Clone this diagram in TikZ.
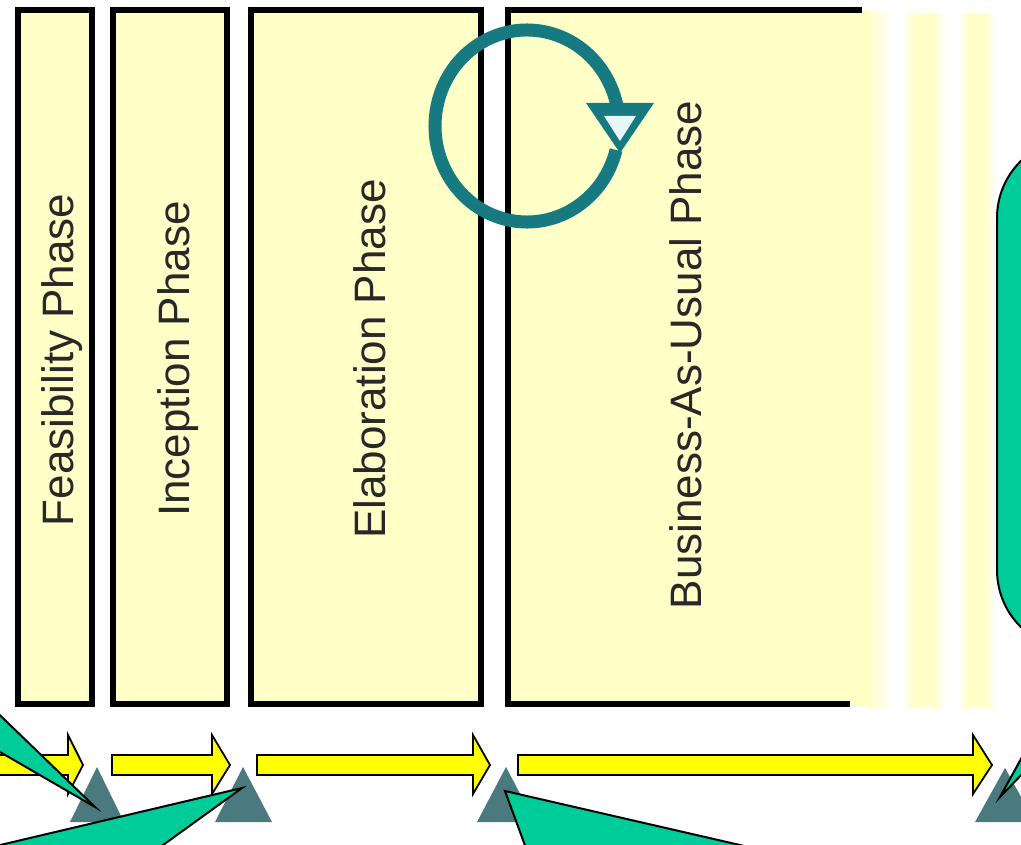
\documentclass[tikz,border=0pt]{standalone}
\usepackage{fontspec}
\setmainfont{Liberation Sans}
\definecolor{boxyellow}{RGB}{255,255,200}
\definecolor{arrowyellow}{RGB}{255,255,0}
\definecolor{slate}{RGB}{74,122,126}
\definecolor{ringteal}{RGB}{22,122,128}
\definecolor{ringlight}{RGB}{230,246,250}
\definecolor{calloutgreen}{RGB}{0,204,153}
\definecolor{textgray}{RGB}{40,40,40}
\begin{document}
\begin{tikzpicture}[x=1pt,y=-1pt,
  phasebox/.style={draw=black, line width=6pt, fill=boxyellow, line join=miter},
  phasetext/.style={rotate=90, anchor=base, inner sep=0pt, font=\fontsize{44}{50}\selectfont, text=textgray},
  blockarrow/.style={draw=black, line width=1.8pt, fill=arrowyellow, line join=miter},
  milestone/.style={fill=slate, draw=none},
  callout/.style={draw=black, line width=2pt, fill=calloutgreen, line join=miter},
  ring/.style={draw=ringteal, line width=13pt, line cap=butt},
]
\useasboundingbox (0,0) rectangle (1021,845);
\fill[white] (0,0) rectangle (1021,845);
\begin{scope}
\clip (0,0) rectangle (1021,845);
% fading tail of the open phase and stripes
\fill[boxyellow] (508,10) rectangle (868,706);
\shade[left color=boxyellow, right color=white] (867,12) rectangle (893,708);
\shade[left color=white, right color=boxyellow] (902,14) rectangle (914,708);
\fill[boxyellow] (913,14) rectangle (934,708);
\shade[left color=boxyellow, right color=white] (933,14) rectangle (946,708);
\shade[left color=white, right color=boxyellow] (958,14) rectangle (968,708);
\fill[boxyellow] (967,14) rectangle (986,708);
\shade[left color=boxyellow, right color=white] (985,14) rectangle (996,708);
% phase boxes
\draw[phasebox] (18,10) rectangle (92,704);
\draw[phasebox] (113,10) rectangle (227,704);
\draw[phasebox] (251,10) rectangle (481,704);
\draw[draw=black, line width=6pt, line join=miter] (862,10) -- (508,10) -- (508,704) -- (850,704);
% phase labels
\node[phasetext] (feas) at (73,360) {Feasibility Phase};
\node[phasetext] (incep) at (189,359) {Inception Phase};
\node[phasetext] (elab) at (385,359) {Elaboration Phase};
\node[phasetext] (bau) at (701,355) {Business-As-Usual Phase};
% circular arrow
\draw[ring] ([shift={(14.5:92 and 96)}]527,126) arc[start angle=14.5, end angle=347.3, x radius=92, y radius=96];
\fill[ringteal] (586,103) -- (654,103) -- (620,153) -- cycle;
\fill[ringlight] (604,116) -- (636,116) -- (620,141) -- cycle;
% block arrows
\draw[blockarrow] (-10,755) -- (68,755) -- (68,735) -- (83,765) -- (68,794) -- (68,775) -- (-10,775) -- cycle;
\draw[blockarrow] (112,755) -- (212,755) -- (212,735) -- (230,765) -- (212,794) -- (212,775) -- (112,775) -- cycle;
\draw[blockarrow] (257,755) -- (473,755) -- (473,735) -- (490,765) -- (473,794) -- (473,775) -- (257,775) -- cycle;
\draw[blockarrow] (518,755) -- (973,755) -- (973,735) -- (992,765) -- (973,794) -- (973,775) -- (518,775) -- cycle;
% milestones
\fill[milestone] (97,767) -- (124,822) -- (70,822) -- cycle;
\fill[milestone] (243,767) -- (272,822) -- (215,822) -- cycle;
\fill[milestone] (506,767) -- (535,822) -- (477,822) -- cycle;
\fill[milestone] (1005,768) -- (1035,822) -- (975,822) -- cycle;
% callouts
\draw[callout] (95,807) -- (-50,667) -- (-50,723) -- cycle;
\draw[callout] (242,788) -- (-233,900) -- (87,900) -- cycle;
\draw[callout] (505,791) -- (545,900) -- (979,900) -- cycle;
\draw[callout] (1200,138) -- (1077,138) arc[start angle=270, end angle=180, radius=80] -- (997,570)
  arc[start angle=180, end angle=90, radius=80] -- (1081,650) -- (1000,797) -- (1142,650) -- (1200,650) -- cycle;
\end{scope}
\end{tikzpicture}
\end{document}
